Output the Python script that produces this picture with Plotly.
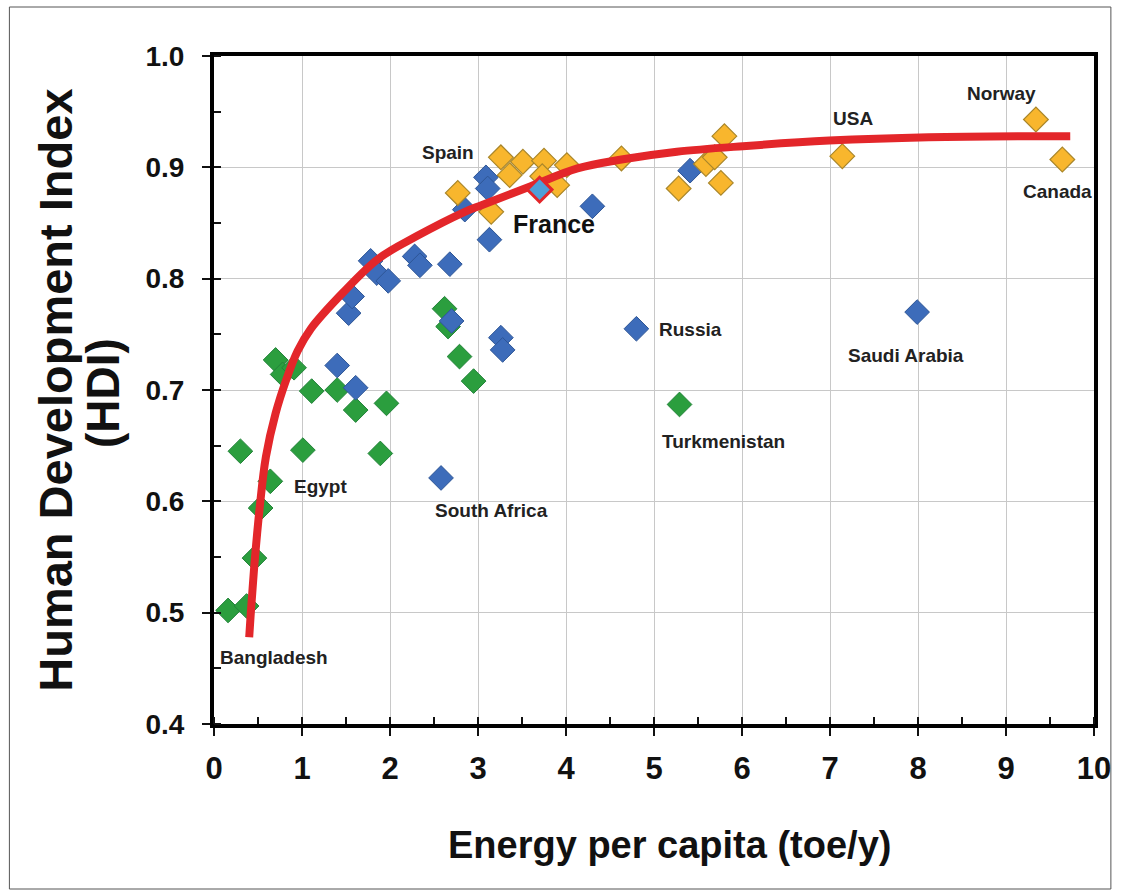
import plotly.graph_objects as go

# ---- data ----
green_x = [0.16, 0.37, 0.46, 0.53, 0.64, 0.30, 0.70, 0.78, 0.91, 1.11, 1.01, 1.40, 1.61, 1.96, 1.89,
           2.62, 2.66, 2.79, 2.95, 5.29]
green_y = [0.502, 0.506, 0.549, 0.594, 0.618, 0.645, 0.727, 0.714, 0.720, 0.699, 0.646, 0.700, 0.682, 0.688, 0.643,
           0.773, 0.757, 0.730, 0.708, 0.687]

blue_x = [1.40, 1.61, 1.53, 1.57, 1.78, 1.85, 1.98, 2.28, 2.34, 2.68, 2.70, 2.58, 2.85, 3.09, 3.11, 3.13,
          3.26, 3.28, 4.30, 5.41, 4.80, 7.99]
blue_y = [0.722, 0.702, 0.769, 0.784, 0.816, 0.805, 0.798, 0.820, 0.812, 0.813, 0.762, 0.621, 0.862, 0.891, 0.881, 0.835,
          0.747, 0.736, 0.865, 0.897, 0.755, 0.770]

orange_x = [2.77, 3.15, 3.26, 3.36, 3.51, 3.75, 3.73, 3.90, 4.01, 4.63, 5.28, 5.59, 5.69, 5.80, 5.76,
            7.14, 9.34, 9.64]
orange_y = [0.877, 0.860, 0.909, 0.893, 0.905, 0.906, 0.892, 0.884, 0.902, 0.908, 0.881, 0.903, 0.909, 0.928, 0.886,
            0.910, 0.943, 0.907]

france_x = [3.70]
france_y = [0.880]

curve_x = [0.40, 0.42, 0.46, 0.52, 0.59, 0.70, 0.82, 0.95, 1.10, 1.46, 1.87, 2.30, 2.85, 3.04, 3.60,
           4.13, 4.63, 5.26, 6.01, 6.99, 8.12, 9.73]
curve_y = [0.478, 0.502, 0.544, 0.595, 0.640, 0.679, 0.709, 0.735, 0.755, 0.787, 0.818, 0.838, 0.860, 0.866, 0.883,
           0.899, 0.907, 0.914, 0.919, 0.924, 0.927, 0.928]

label_text = ["Spain", "USA", "Norway", "Canada", "Russia", "Saudi Arabia", "Turkmenistan",
              "Egypt", "South Africa", "Bangladesh"]
label_x = [2.66, 7.26, 8.95, 9.58, 5.41, 7.86, 5.79, 1.21, 3.15, 0.68]
label_y = [0.913, 0.944, 0.966, 0.878, 0.754, 0.731, 0.654, 0.613, 0.592, 0.460]

x_ticks = list(range(0, 11))
y_ticks = [0.4, 0.5, 0.6, 0.7, 0.8, 0.9, 1.0]
y_tick_text = ["0.4", "0.5", "0.6", "0.7", "0.8", "0.9", "1.0"]

# ---- styles ----
SANS = "Liberation Sans, Arial, sans-serif"
MSIZE = 19

fig = go.Figure()
fig.add_trace(go.Scatter(x=green_x, y=green_y, mode="markers",
                         marker=dict(symbol="diamond", size=MSIZE, color="#2b9e3e",
                                     line=dict(color="#23833a", width=1))))
fig.add_trace(go.Scatter(x=blue_x, y=blue_y, mode="markers",
                         marker=dict(symbol="diamond", size=MSIZE, color="#3d6cba",
                                     line=dict(color="#2e5696", width=1))))
fig.add_trace(go.Scatter(x=orange_x, y=orange_y, mode="markers",
                         marker=dict(symbol="diamond", size=MSIZE, color="#f8b62d",
                                     line=dict(color="#a9862a", width=1.2))))
fig.add_trace(go.Scatter(x=curve_x, y=curve_y, mode="lines", line_shape="spline",
                         line=dict(color="#e3262a", width=8)))
fig.add_trace(go.Scatter(x=france_x, y=france_y, mode="markers",
                         marker=dict(symbol="diamond", size=MSIZE, color="#4f9fd8",
                                     line=dict(color="#e3262a", width=3))))

for t, x, y in zip(label_text, label_x, label_y):
    fig.add_annotation(x=x, y=y, text=t, showarrow=False, xanchor="center", yanchor="middle",
                       font=dict(family=SANS, size=19, color="#222222", weight="bold"))
fig.add_annotation(x=3.86, y=0.849, text="France", showarrow=False, xanchor="center", yanchor="middle",
                   font=dict(family=SANS, size=25, color="#111111", weight="bold"))

# axis titles as annotations (paper coords relative to plot area)
fig.add_annotation(xref="paper", yref="paper", x=(55 - 214) / 886, y=0.499,
                   text="Human Development Index", textangle=-90, showarrow=False,
                   xanchor="center", yanchor="middle",
                   font=dict(family=SANS, size=47, color="#111111", weight="bold"))
fig.add_annotation(xref="paper", yref="paper", x=(103 - 214) / 886, y=0.495,
                   text="(HDI)", textangle=-90, showarrow=False,
                   xanchor="center", yanchor="middle",
                   font=dict(family=SANS, size=46, color="#111111", weight="bold"))
fig.add_annotation(xref="paper", yref="paper", x=(673 - 214) / 886, y=(724 - 845) / 668,
                   text="Energy per capita (toe/y)", showarrow=False,
                   xanchor="center", yanchor="middle",
                   font=dict(family=SANS, size=38, color="#111111", weight="bold"))

# outer thin frame
fig.add_shape(type="rect", xref="paper", yref="paper",
              x0=(8 - 214) / 886, x1=(1117 - 214) / 886,
              y0=(724 - 889) / 668, y1=(724 - 7) / 668,
              line=dict(color="#555555", width=1), fillcolor="rgba(0,0,0,0)", layer="below")

fig.update_xaxes(range=[0, 10], tickvals=x_ticks, ticks="outside", ticklen=8, tickwidth=1.5,
                 tickcolor="#111", showgrid=True, gridcolor="#c8c8c8", gridwidth=1,
                 showline=True, linecolor="#000", linewidth=4, mirror=True, zeroline=False,
                 tickfont=dict(family=SANS, size=31, color="#111", weight="bold"),
                 ticklabelstandoff=6,
                 minor=dict(dtick=0.5, ticks="inside", ticklen=7, tickcolor="#111", showgrid=False))
fig.update_yaxes(range=[0.4, 1.0], tickvals=y_ticks, ticktext=y_tick_text, ticks="outside", ticklen=8,
                 tickwidth=1.5, tickcolor="#111", showgrid=True, gridcolor="#c8c8c8", gridwidth=1,
                 showline=True, linecolor="#000", linewidth=4, mirror=True, zeroline=False,
                 tickfont=dict(family=SANS, size=28, color="#111", weight="bold"),
                 ticklabelstandoff=12,
                 minor=dict(dtick=0.05, ticks="inside", ticklen=7, tickcolor="#111", showgrid=False))

fig.update_layout(width=1123, height=894, showlegend=False,
                  margin=dict(l=214, r=23, t=56, b=170),
                  paper_bgcolor="white", plot_bgcolor="white")

fig.write_html("out.html", config={"displayModeBar": False},
               post_script="document.body.style.margin='0';document.body.style.overflow='hidden';")
